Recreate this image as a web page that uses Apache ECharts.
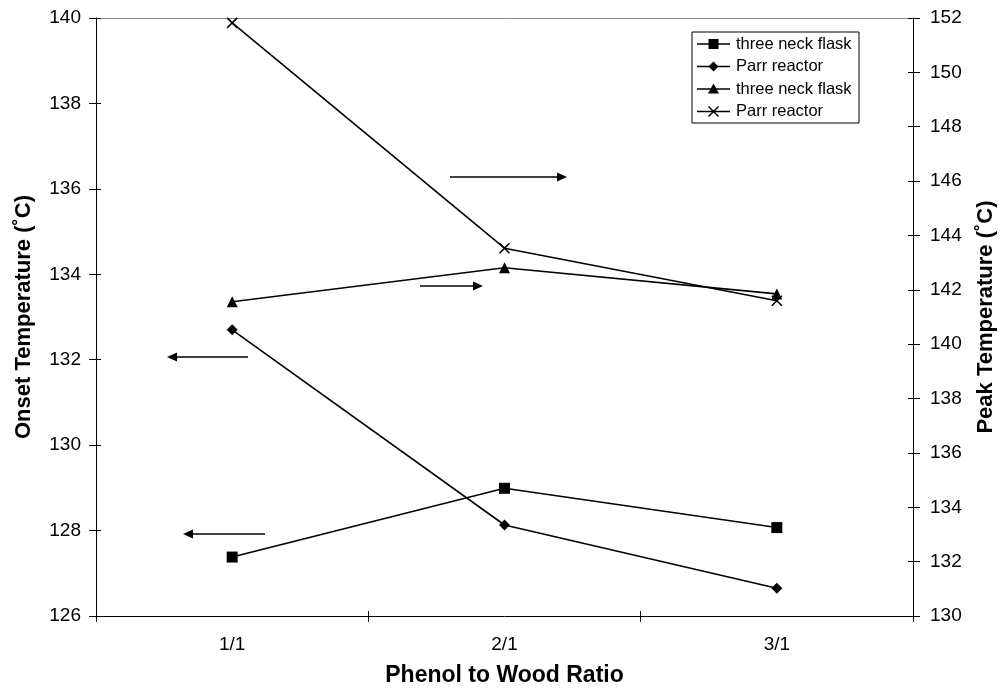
<!DOCTYPE html>
<html>
<head>
<meta charset="utf-8">
<script src="https://cdn.jsdelivr.net/npm/echarts@6/dist/echarts.min.js"></script>
<style>html,body{margin:0;padding:0;background:#fff;}#chart{width:1000px;height:690px;}</style>
</head>
<body>
<div id="chart"></div>
<script>
// ---- data ----
const categories = ['1/1', '2/1', '3/1'];
const threeNeckOnset = [127.38, 128.99, 128.07];   // left axis, square
const parrOnset      = [132.70, 128.13, 126.65];   // left axis, diamond
const threeNeckPeak  = [141.56, 142.81, 141.85];   // right axis, triangle
const parrPeak       = [151.82, 143.53, 141.60];   // right axis, cross
const seriesNames = ['three neck flask', 'Parr reactor', 'three neck flask', 'Parr reactor'];

const FONT = 'Liberation Sans, Arial, sans-serif';
const chart = echarts.init(document.getElementById('chart'));

function lineSeries(name, data, yIdx, symbol, size) {
  return {
    name, type: 'line', data, yAxisIndex: yIdx,
    symbol, symbolSize: size, showSymbol: true,
    lineStyle: { color: '#000', width: 1.6 },
    itemStyle: { color: '#000', borderColor: '#000', borderWidth: symbol.startsWith('path') ? 1.6 : 0 },
    emphasis: { disabled: true }, animation: false
  };
}

// arrow annotations (pixel positions of the annotation arrows)
function arrow(x1, x2, y) {
  const dir = x2 > x1 ? 1 : -1;
  const hl = 10, hw = 4.5;
  return {
    type: 'group', children: [
      { type: 'line', shape: { x1: x1, y1: y, x2: x2 - dir * hl * 0.6, y2: y }, style: { stroke: '#000', lineWidth: 1.6 } },
      { type: 'polygon', shape: { points: [[x2, y], [x2 - dir * hl, y - hw], [x2 - dir * hl, y + hw]] }, style: { fill: '#000' } }
    ]
  };
}

const tickOnly = { axisLine: { show: false }, axisLabel: { show: false }, splitLine: { show: false } };

const option = {
  backgroundColor: '#fff',
  animation: false,
  textStyle: { fontFamily: FONT },
  grid: { left: 96, right: 87, top: 18, bottom: 74, containLabel: false, outerBoundsMode: 'none' },
  xAxis: [{
    type: 'category', data: categories, boundaryGap: true, position: 'bottom',
    axisLine: { lineStyle: { color: '#000', width: 1 } },
    axisTick: { show: true, length: 6, lineStyle: { color: '#000' } },
    axisLabel: { color: '#000', fontSize: 19, margin: 19, fontFamily: FONT },
    name: 'Phenol to Wood Ratio', nameLocation: 'middle', nameGap: 48,
    nameTextStyle: { color: '#000', fontSize: 23, fontWeight: 'bold', fontFamily: FONT }
  }, {
    type: 'category', data: categories, position: 'top',
    axisLine: { show: true, lineStyle: { color: '#8c8c8c', width: 1 } },
    axisTick: { show: false }, axisLabel: { show: false }
  }, Object.assign({
    type: 'category', data: categories, boundaryGap: true, position: 'bottom',
    axisTick: { show: true, inside: true, length: 5, lineStyle: { color: '#000' } }
  }, tickOnly)],
  yAxis: [{
    type: 'value', min: 126, max: 140, interval: 2, position: 'left',
    axisLine: { show: true, lineStyle: { color: '#000' } },
    axisTick: { show: true, length: 7, lineStyle: { color: '#000' } },
    splitLine: { show: false },
    axisLabel: { color: '#000', fontSize: 19, margin: 15, fontFamily: FONT },
    name: 'Onset Temperature (˚C)', nameLocation: 'middle', nameGap: 61, nameRotate: 90,
    nameTextStyle: { color: '#000', fontSize: 22, fontWeight: 'bold', fontFamily: FONT }
  }, {
    type: 'value', min: 130, max: 152, interval: 2, position: 'right',
    axisLine: { show: true, lineStyle: { color: '#000' } },
    axisTick: { show: true, length: 7, lineStyle: { color: '#000' } },
    splitLine: { show: false },
    axisLabel: { color: '#000', fontSize: 19, margin: 17, fontFamily: FONT },
    name: 'Peak Temperature (˚C)', nameLocation: 'middle', nameGap: 62, nameRotate: 90,
    nameTextStyle: { color: '#000', fontSize: 22, fontWeight: 'bold', fontFamily: FONT }
  }, Object.assign({
    type: 'value', min: 126, max: 140, interval: 2, position: 'left',
    axisTick: { show: true, inside: true, length: 5, lineStyle: { color: '#000' } }
  }, tickOnly), Object.assign({
    type: 'value', min: 130, max: 152, interval: 2, position: 'right',
    axisTick: { show: true, inside: true, length: 5, lineStyle: { color: '#000' } }
  }, tickOnly)],
  series: [
    lineSeries(seriesNames[0], threeNeckOnset, 0, 'rect', 11),
    lineSeries(seriesNames[1], parrOnset, 0, 'diamond', 11),
    lineSeries(seriesNames[2], threeNeckPeak, 1, 'triangle', 11),
    lineSeries(seriesNames[3], parrPeak, 1, 'path://M0,0L10,10M10,0L0,10', 10)
  ]
};
chart.setOption(option);

// legend box drawn as graphic (series names repeat, so a custom legend is used)
const legendSymbols = ['rect', 'diamond', 'triangle', 'cross'];
const lgX = 692, lgY = 32, lgW = 167, lgH = 91, rowH = 22.5;
const lg = [{ type: 'rect', shape: { x: lgX, y: lgY, width: lgW, height: lgH }, style: { fill: '#fff', stroke: '#000', lineWidth: 1 } }];
seriesNames.forEach((n, i) => {
  const cy = lgY + 12 + i * rowH;
  const x0 = lgX + 5, x1 = lgX + 38, cx = (x0 + x1) / 2;
  lg.push({ type: 'line', shape: { x1: x0, y1: cy, x2: x1, y2: cy }, style: { stroke: '#000', lineWidth: 1.5 } });
  const s = legendSymbols[i];
  if (s === 'rect') lg.push({ type: 'rect', shape: { x: cx - 5, y: cy - 5, width: 10, height: 10 }, style: { fill: '#000' } });
  if (s === 'diamond') lg.push({ type: 'polygon', shape: { points: [[cx, cy - 5], [cx + 5, cy], [cx, cy + 5], [cx - 5, cy]] }, style: { fill: '#000' } });
  if (s === 'triangle') lg.push({ type: 'polygon', shape: { points: [[cx, cy - 5.5], [cx + 5.5, cy + 4.5], [cx - 5.5, cy + 4.5]] }, style: { fill: '#000' } });
  if (s === 'cross') lg.push({ type: 'polyline', shape: { points: [[cx - 5, cy - 5], [cx + 5, cy + 5]] }, style: { stroke: '#000', lineWidth: 1.4 } },
                               { type: 'polyline', shape: { points: [[cx + 5, cy - 5], [cx - 5, cy + 5]] }, style: { stroke: '#000', lineWidth: 1.4 } });
  lg.push({ type: 'text', style: { x: lgX + 44, y: cy, text: n, fill: '#000', font: '16.5px ' + FONT, textVerticalAlign: 'middle' } });
});

chart.setOption({
  graphic: [
    arrow(450, 567, 177),
    arrow(420, 483, 286),
    arrow(248, 167, 357),
    arrow(265, 183, 534),
    { type: 'group', children: lg }
  ]
});
</script>
</body>
</html>
